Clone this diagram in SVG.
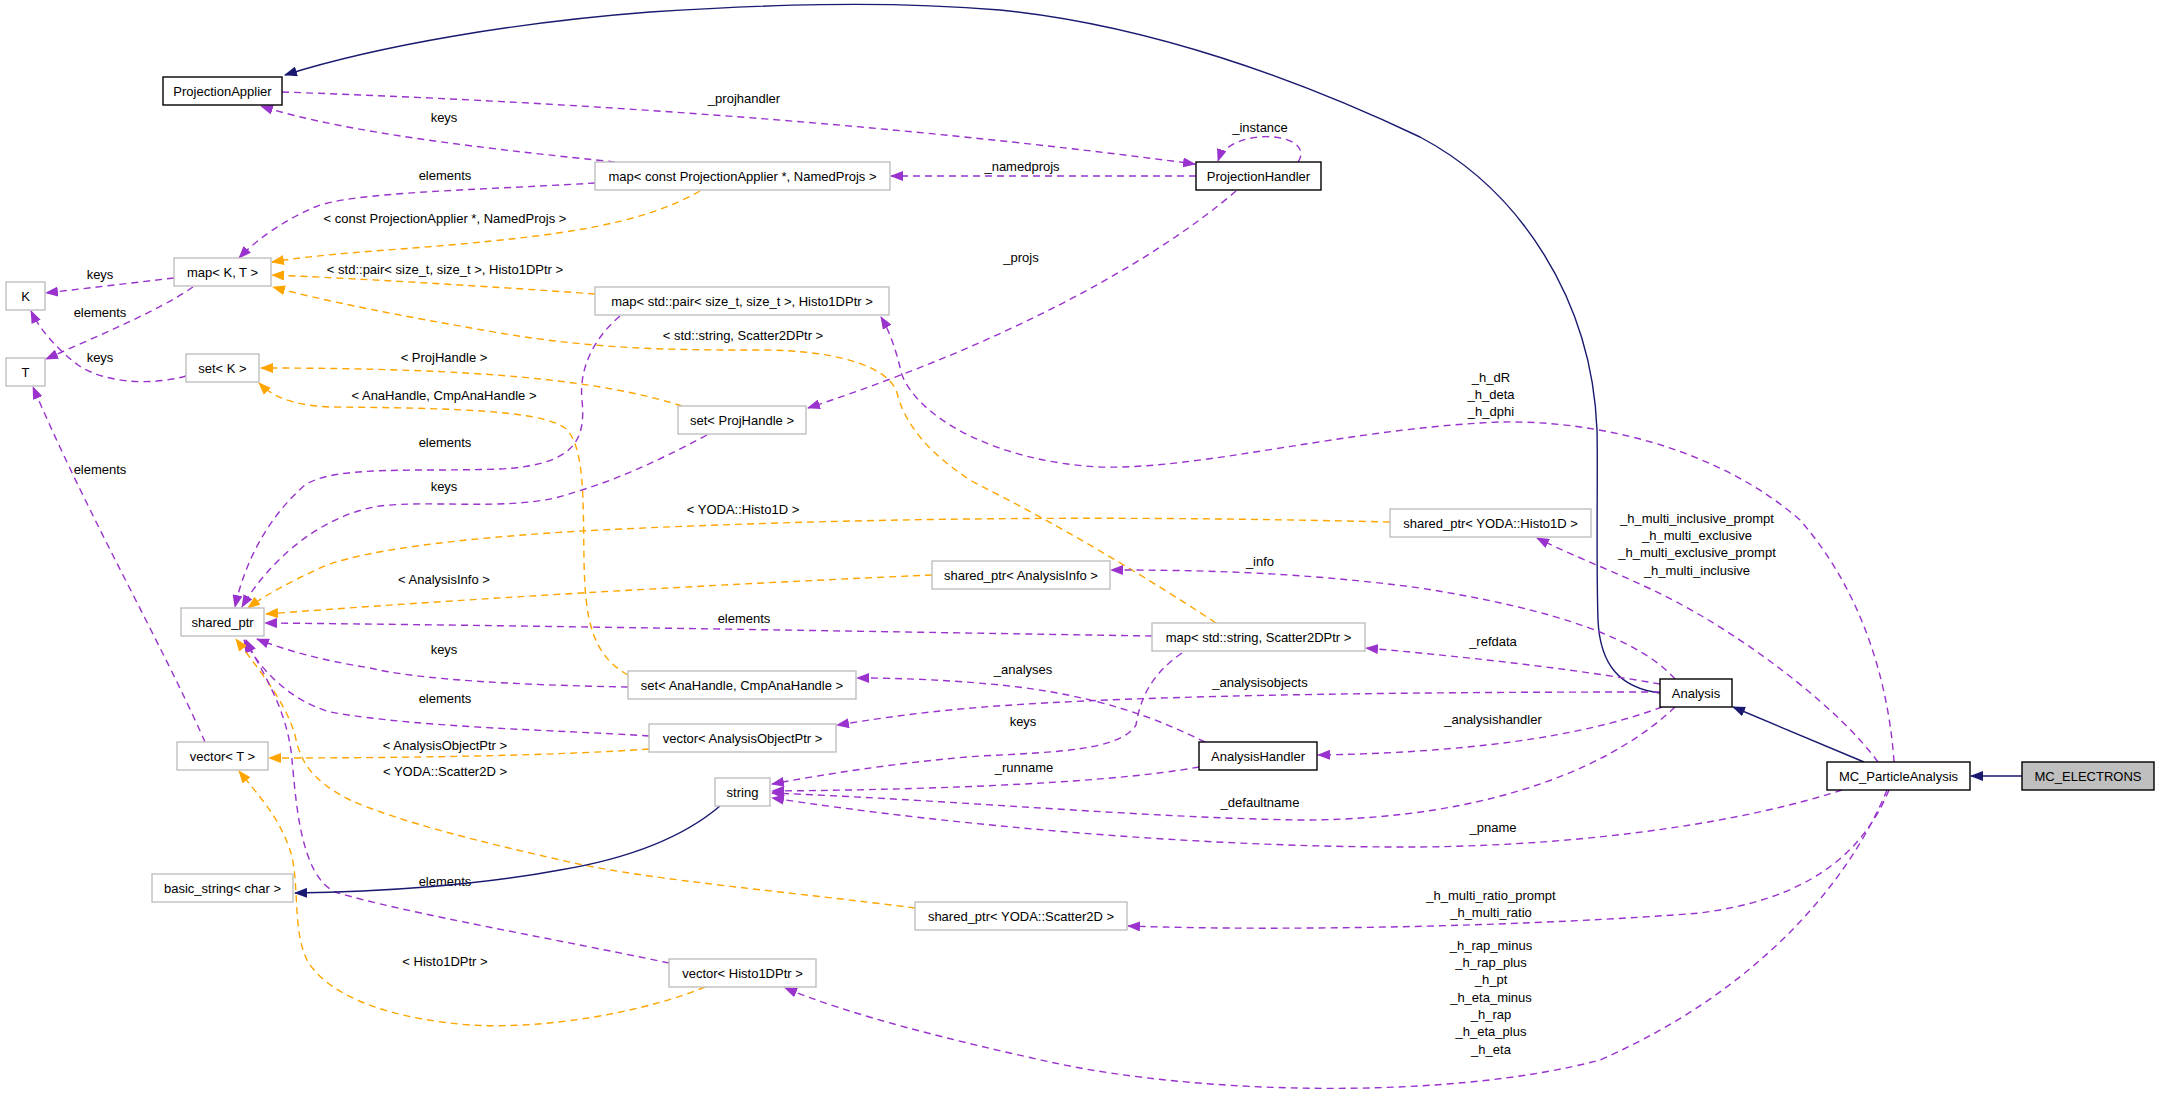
<svg xmlns="http://www.w3.org/2000/svg" width="2160" height="1101" viewBox="0 0 2160 1101">
<style>
text{font-family:"Liberation Sans",Arial,Helvetica,sans-serif;font-size:13px;fill:#000;text-anchor:middle}
.n rect{fill:#fff;stroke:#bfbfbf;stroke-width:1.4}
.d rect{stroke:#000}
.g rect{fill:#bfbfbf;stroke:#000}
.e{fill:none;stroke-width:1.4;stroke-dasharray:7,5}
.p{stroke:#9a32cd;marker-end:url(#mp)}
.o{stroke:#ffa500;marker-end:url(#mo)}
.i{fill:none;stroke:#191970;stroke-width:1.4;marker-end:url(#mi)}
</style>
<defs>
<marker id="mp" markerUnits="userSpaceOnUse" markerWidth="13" markerHeight="10" viewBox="0 0 13 10" refX="12" refY="5" orient="auto"><path d="M0,0 L13,5 L0,10 z" fill="#9a32cd"/></marker>
<marker id="mo" markerUnits="userSpaceOnUse" markerWidth="13" markerHeight="10" viewBox="0 0 13 10" refX="12" refY="5" orient="auto"><path d="M0,0 L13,5 L0,10 z" fill="#ffa500"/></marker>
<marker id="mi" markerUnits="userSpaceOnUse" markerWidth="13" markerHeight="10" viewBox="0 0 13 10" refX="12" refY="5" orient="auto"><path d="M0,0 L13,5 L0,10 z" fill="#191970"/></marker>
</defs>
<rect width="2160" height="1101" fill="#fff"/>
<g id="edges">
<path class="i" d="M1660,693 C1620,688 1600,665 1598,620 C1596,560 1598,470 1597,430 C1592,300 1520,190 1420,137 C1300,80 1150,25 1000,10 C880,0 760,5 650,12 C520,22 380,45 285,75"/>
<path class="e p" d="M282,92 C600,103 900,125 1195,164"/>
<text x="744" y="103">_projhandler</text>
<path class="e p" d="M615,162 C520,152 350,135 261,106"/>
<text x="444" y="122">keys</text>
<path class="e p" d="M1196,176 L891,176"/>
<text x="1022" y="171">_namedprojs</text>
<path class="e p" d="M1298,162 C1318,132 1230,125 1218,161"/>
<text x="1260" y="132">_instance</text>
<path class="e p" d="M1236,191 C1150,265 1000,345 808,408"/>
<text x="1021" y="262">_projs</text>
<path class="e p" d="M595,183 C480,190 350,192 315,207 C285,220 258,238 239,258"/>
<text x="445" y="180">elements</text>
<path class="e o" d="M700,191 C640,225 560,235 450,245 C380,251 320,254 272,262"/>
<text x="445" y="223">&lt; const ProjectionApplier *, NamedProjs &gt;</text>
<path class="e o" d="M595,294 C500,287 350,278 272,275"/>
<text x="445" y="274">&lt; std::pair&lt; size_t, size_t &gt;, Histo1DPtr &gt;</text>
<path class="e o" d="M1216,623 C1140,573 1050,520 975,483 C930,455 905,425 897,393 C890,368 840,350 760,350 C680,350 600,350 500,333 C400,316 320,300 273,287"/>
<text x="743" y="340">&lt; std::string, Scatter2DPtr &gt;</text>
<path class="e p" d="M174,278 L46,293"/>
<text x="100" y="279">keys</text>
<path class="e p" d="M193,287 C160,310 100,335 46,359"/>
<text x="100" y="317">elements</text>
<path class="e p" d="M186,376 C150,386 105,383 78,365 C58,350 40,330 31,311"/>
<text x="100" y="362">keys</text>
<path class="e p" d="M205,742 C160,640 90,520 33,387"/>
<text x="100" y="474">elements</text>
<path class="e o" d="M682,406 C600,380 480,368 261,368"/>
<text x="444" y="362">&lt; ProjHandle &gt;</text>
<path class="e o" d="M628,675 C592,655 585,620 584,560 C583,500 585,445 565,428 C540,410 450,408 330,407 C290,405 272,396 259,383"/>
<text x="444" y="400">&lt; AnaHandle, CmpAnaHandle &gt;</text>
<path class="e p" d="M620,316 C592,340 579,370 582,400 C586,440 575,465 500,469 C420,472 335,465 305,485 C270,515 245,560 235,607"/>
<text x="445" y="447">elements</text>
<path class="e p" d="M707,435 C650,465 610,483 555,498 C500,510 430,500 380,506 C320,515 268,562 242,607"/>
<text x="444" y="491">keys</text>
<path class="e o" d="M1390,522 C1100,515 850,518 600,530 C450,538 355,552 320,568 C290,582 265,595 248,608"/>
<text x="743" y="514">&lt; YODA::Histo1D &gt;</text>
<path class="e o" d="M932,575 C700,585 450,600 266,614"/>
<text x="444" y="584">&lt; AnalysisInfo &gt;</text>
<path class="e p" d="M1152,636 C900,632 500,625 265,623"/>
<text x="744" y="623">elements</text>
<path class="e p" d="M628,687 C520,685 420,680 370,668 C320,660 285,650 257,639"/>
<text x="444" y="654">keys</text>
<path class="e p" d="M649,736 C560,730 420,728 330,712 C290,700 262,672 244,640"/>
<text x="445" y="703">elements</text>
<path class="e o" d="M649,749 C550,756 400,758 269,758"/>
<text x="445" y="750">&lt; AnalysisObjectPtr &gt;</text>
<path class="e o" d="M915,908 C800,893 650,880 574,863 C480,842 400,822 350,800 C310,780 300,760 295,735 C285,700 255,665 236,639"/>
<text x="445" y="776">&lt; YODA::Scatter2D &gt;</text>
<path class="e p" d="M669,963 C560,940 400,912 335,892 C300,875 296,800 292,760 C288,710 262,672 246,640"/>
<text x="445" y="886">elements</text>
<path class="e o" d="M705,987 C650,1010 550,1030 470,1025 C380,1018 325,992 307,960 C292,930 300,880 290,850 C278,815 258,795 239,771"/>
<text x="445" y="966">&lt; Histo1DPtr &gt;</text>
<path class="i" d="M720,806 C680,840 620,860 560,870 C480,885 380,892 295,893"/>
<path class="e p" d="M1675,707 C1620,760 1500,820 1300,820 C1150,818 950,800 772,793"/>
<text x="1260" y="807">_defaultname</text>
<path class="e p" d="M1182,653 C1150,675 1140,700 1136,725 C1120,750 1060,752 980,756 C900,762 820,775 772,784"/>
<text x="1023" y="726">keys</text>
<path class="e p" d="M1199,767 C1100,785 900,790 772,791"/>
<text x="1024" y="772">_runname</text>
<path class="e p" d="M1842,790 C1750,820 1600,845 1420,847 C1200,848 950,825 772,798"/>
<text x="1493" y="832">_pname</text>
<path class="e p" d="M1205,742 C1160,720 1100,695 1000,685 C950,680 900,678 857,678"/>
<text x="1023" y="674">_analyses</text>
<path class="e p" d="M1662,707 C1600,730 1500,752 1318,755"/>
<text x="1493" y="724">_analysishandler</text>
<path class="e p" d="M1660,692 C1400,692 1100,695 950,710 C900,715 870,720 837,725"/>
<text x="1260" y="687">_analysisobjects</text>
<path class="e p" d="M1660,684 C1580,670 1480,658 1366,648"/>
<text x="1493" y="646">_refdata</text>
<path class="e p" d="M1675,679 C1640,640 1560,610 1420,588 C1300,572 1200,570 1111,570"/>
<text x="1260" y="566">_info</text>
<path class="i" d="M1864,762 L1733,707"/>
<path class="i" d="M2022,776 L1971,776"/>
<path class="e p" d="M1894,762 C1890,700 1870,600 1800,520 C1720,450 1600,420 1500,422 C1350,428 1200,470 1100,467 C1000,462 920,420 902,375 C896,350 890,332 881,317"/>
<text x="1491" y="382">_h_dR</text>
<text x="1491" y="399">_h_deta</text>
<text x="1491" y="416">_h_dphi</text>
<path class="e p" d="M1878,762 C1840,710 1760,650 1700,615 C1640,580 1580,560 1537,538"/>
<text x="1697" y="523">_h_multi_inclusive_prompt</text>
<text x="1697" y="540">_h_multi_exclusive</text>
<text x="1697" y="557">_h_multi_exclusive_prompt</text>
<text x="1697" y="575">_h_multi_inclusive</text>
<path class="e p" d="M1889,790 C1860,860 1800,900 1700,913 C1550,925 1300,932 1128,926"/>
<text x="1491" y="900">_h_multi_ratio_prompt</text>
<text x="1491" y="917">_h_multi_ratio</text>
<path class="e p" d="M1887,790 C1850,880 1760,990 1600,1060 C1450,1100 1200,1095 1050,1062 C950,1040 850,1015 785,988"/>
<text x="1491" y="950">_h_rap_minus</text>
<text x="1491" y="967">_h_rap_plus</text>
<text x="1491" y="984">_h_pt</text>
<text x="1491" y="1002">_h_eta_minus</text>
<text x="1491" y="1019">_h_rap</text>
<text x="1491" y="1036">_h_eta_plus</text>
<text x="1491" y="1054">_h_eta</text>
</g>
<g id="ProjectionApplier" class="n d"><rect x="163" y="77" width="119" height="28"/><text x="222.5" y="95.5">ProjectionApplier</text></g>
<g id="ProjectionHandler" class="n d"><rect x="1196" y="162" width="125" height="28"/><text x="1258.5" y="180.5">ProjectionHandler</text></g>
<g id="map_const_PA" class="n"><rect x="595" y="162" width="295" height="28"/><text x="742.5" y="180.5">map&lt; const ProjectionApplier *, NamedProjs &gt;</text></g>
<g id="map_K_T" class="n"><rect x="174" y="258" width="97" height="28"/><text x="222.5" y="276.5">map&lt; K, T &gt;</text></g>
<g id="K" class="n"><rect x="6" y="282" width="39" height="28"/><text x="25.5" y="300.5">K</text></g>
<g id="map_pair" class="n"><rect x="595" y="287" width="294" height="28"/><text x="742" y="305.5">map&lt; std::pair&lt; size_t, size_t &gt;, Histo1DPtr &gt;</text></g>
<g id="T" class="n"><rect x="6" y="358" width="39" height="28"/><text x="25.5" y="376.5">T</text></g>
<g id="set_K" class="n"><rect x="186" y="354" width="73" height="28"/><text x="222.5" y="372.5">set&lt; K &gt;</text></g>
<g id="set_ProjHandle" class="n"><rect x="678" y="406" width="128" height="28"/><text x="742" y="424.5">set&lt; ProjHandle &gt;</text></g>
<g id="shared_ptr" class="n"><rect x="181" y="608" width="83" height="28"/><text x="222.5" y="626.5">shared_ptr</text></g>
<g id="set_AnaHandle" class="n"><rect x="628" y="671" width="228" height="28"/><text x="742" y="689.5">set&lt; AnaHandle, CmpAnaHandle &gt;</text></g>
<g id="vector_AOP" class="n"><rect x="649" y="724" width="187" height="28"/><text x="742.5" y="742.5">vector&lt; AnalysisObjectPtr &gt;</text></g>
<g id="shared_ptr_Histo1D" class="n"><rect x="1390" y="509" width="201" height="28"/><text x="1490.5" y="527.5">shared_ptr&lt; YODA::Histo1D &gt;</text></g>
<g id="shared_ptr_AnalysisInfo" class="n"><rect x="932" y="561" width="178" height="28"/><text x="1021" y="579.5">shared_ptr&lt; AnalysisInfo &gt;</text></g>
<g id="map_string_Scatter2DPtr" class="n"><rect x="1152" y="623" width="213" height="28"/><text x="1258.5" y="641.5">map&lt; std::string, Scatter2DPtr &gt;</text></g>
<g id="Analysis" class="n d"><rect x="1660" y="679" width="72" height="28"/><text x="1696" y="697.5">Analysis</text></g>
<g id="vector_T" class="n"><rect x="177" y="742" width="91" height="28"/><text x="222.5" y="760.5">vector&lt; T &gt;</text></g>
<g id="basic_string" class="n"><rect x="152" y="874" width="141" height="28"/><text x="222.5" y="892.5">basic_string&lt; char &gt;</text></g>
<g id="vector_Histo1DPtr" class="n"><rect x="669" y="959" width="147" height="28"/><text x="742.5" y="977.5">vector&lt; Histo1DPtr &gt;</text></g>
<g id="AnalysisHandler" class="n d"><rect x="1199" y="742" width="118" height="28"/><text x="1258" y="760.5">AnalysisHandler</text></g>
<g id="string" class="n"><rect x="715" y="778" width="55" height="28"/><text x="742.5" y="796.5">string</text></g>
<g id="shared_ptr_Scatter2D" class="n"><rect x="915" y="902" width="212" height="28"/><text x="1021" y="920.5">shared_ptr&lt; YODA::Scatter2D &gt;</text></g>
<g id="MC_ParticleAnalysis" class="n d"><rect x="1827" y="762" width="143" height="28"/><text x="1898.5" y="780.5">MC_ParticleAnalysis</text></g>
<g id="MC_ELECTRONS" class="n g"><rect x="2022" y="762" width="132" height="28"/><text x="2088" y="780.5">MC_ELECTRONS</text></g>
</svg>
